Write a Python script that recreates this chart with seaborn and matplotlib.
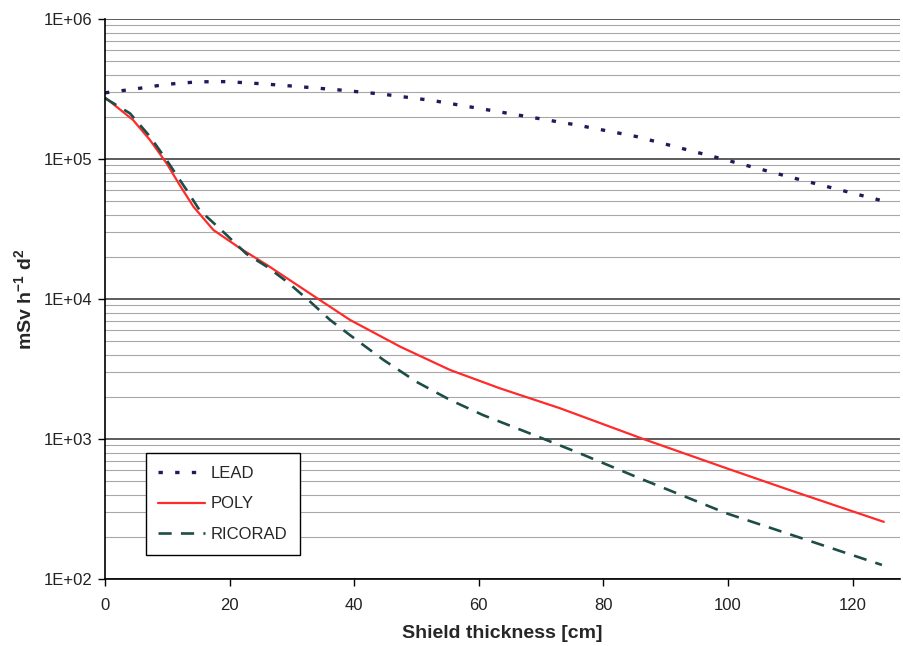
import numpy as np
import pandas as pd
import matplotlib
matplotlib.use("Agg")
import matplotlib.pyplot as plt
import seaborn as sns
from matplotlib.ticker import LogLocator, FixedLocator, NullFormatter

lead_x = [0, 4.5, 10, 15, 19.5, 25, 30, 37.7, 44.7, 52.7, 62.3, 75.7, 85.2, 98, 110.6, 125]
lead_y = [2.97e5, 3.15e5, 3.42e5, 3.56e5, 3.57e5, 3.45e5, 3.32e5, 3.11e5, 2.9e5,
          2.61e5, 2.21e5, 1.75e5, 1.45e5, 1.03e5, 7.3e4, 5.0e4]

poly_x = [0, 4.5, 7.2, 9.9, 12, 14.2, 17.4, 21.7, 26, 31.3, 39.3, 47.4, 55.4, 63.4,
          73, 86.4, 99.8, 110, 125]
poly_y = [2.75e5, 1.9e5, 1.37e5, 9.3e4, 6.5e4, 4.56e4, 3.11e4, 2.3e4, 1.75e4, 1.22e4,
          7.1e3, 4.56e3, 3.11e3, 2.3e3, 1.66e3, 1.0e3, 6.17e2, 4.3e2, 2.56e2]

ric_x = [0, 4, 7.2, 9.9, 13.1, 15.2, 17.4, 19.5, 22.7, 26, 29.2, 32.9, 36.1, 39.3,
         44.7, 50, 55.4, 60.7, 68.8, 76.2, 86, 99.8, 110, 124.7]
ric_y = [2.72e5, 2.12e5, 1.45e5, 9.8e4, 6.0e4, 4.3e4, 3.5e4, 2.87e4, 2.1e4, 1.7e4,
         1.33e4, 9.6e3, 7.1e3, 5.53e3, 3.67e3, 2.56e3, 1.9e3, 1.48e3, 1.07e3, 7.9e2,
         5.2e2, 2.94e2, 2.08e2, 1.26e2]

series_names = ["LEAD", "POLY", "RICORAD"]
y_ticklabels = ["1E+02", "1E+03", "1E+04", "1E+05", "1E+06"]
x_ticks = [0, 20, 40, 60, 80, 100, 120]

sns.set_style("white")
plt.rcParams['font.family'] = ['Liberation Sans', 'DejaVu Sans']
plt.rcParams['mathtext.fontset'] = 'custom'
plt.rcParams['mathtext.rm'] = 'Liberation Sans'
plt.rcParams['mathtext.bf'] = 'Liberation Sans:bold'
plt.rcParams['mathtext.it'] = 'Liberation Sans:italic'

fig = plt.figure(figsize=(9.04, 6.46), dpi=100)
ax = fig.add_axes([105/904, 1-579/646, (900-105)/904, (579-19)/646])

ax.set_yscale("log")
ax.set_ylim(1e2, 1e6)
ax.set_xlim(0, 127.6)
ax.yaxis.set_major_locator(FixedLocator([1e2, 1e3, 1e4, 1e5, 1e6]))
ax.yaxis.set_minor_locator(LogLocator(base=10, subs=np.arange(2, 10)))
ax.yaxis.set_minor_formatter(NullFormatter())
ax.grid(True, which="minor", axis="y", color="#a8a8a8", lw=0.8)
ax.grid(True, which="major", axis="y", color="#303030", lw=1.1)
ax.grid(False, axis="x")
ax.set_axisbelow(True)

df_lead = pd.DataFrame({"x": lead_x, "y": lead_y})
df_poly = pd.DataFrame({"x": poly_x, "y": poly_y})
df_ric = pd.DataFrame({"x": ric_x, "y": ric_y})

sns.lineplot(data=df_lead, x="x", y="y", ax=ax, color="#1c1c5c", lw=2.4,
             linestyle=(0, (1.3, 3.7)), label=series_names[0])
sns.lineplot(data=df_poly, x="x", y="y", ax=ax, color="#ff2a2a", lw=1.6,
             linestyle="-", label=series_names[1])
sns.lineplot(data=df_ric, x="x", y="y", ax=ax, color="#1e4d48", lw=1.9,
             linestyle=(0, (5, 3.5)), label=series_names[2])

ax.set_yticks([1e2, 1e3, 1e4, 1e5, 1e6])
ax.set_yticklabels(y_ticklabels)
ax.set_xticks(x_ticks)
ax.tick_params(axis="y", which="major", labelsize=12, length=5, width=1,
               color="black", direction="out", pad=4, labelcolor="#222222")
ax.tick_params(axis="x", which="major", labelsize=12, length=5, width=1,
               color="black", direction="out", pad=9, labelcolor="#222222")
ax.tick_params(axis="y", which="minor", length=0)
ax.tick_params(left=True, bottom=True)

for s in ["top", "right"]:
    ax.spines[s].set_visible(False)
for s in ["left", "bottom"]:
    ax.spines[s].set_color("black")
    ax.spines[s].set_linewidth(1.2)

ax.set_xlabel("Shield thickness [cm]", fontsize=14, fontweight="bold", labelpad=8)
ax.set_ylabel(r"$\mathbf{mSv\ h^{-1}\ d^{2}}$", fontsize=14)
ax.yaxis.set_label_coords((35-105)/795, 0.5)

leg = ax.legend(loc="upper left", bbox_to_anchor=((146-105)/795, (579-453)/560),
                frameon=True, fancybox=False, shadow=False, fontsize=12,
                handlelength=2.8, handletextpad=0.35, labelspacing=0.95,
                borderpad=0.75, borderaxespad=0)
leg.get_frame().set_edgecolor("black")
leg.get_frame().set_linewidth(1.0)
leg.get_frame().set_alpha(1)

fig.savefig("out.png", dpi=100)
